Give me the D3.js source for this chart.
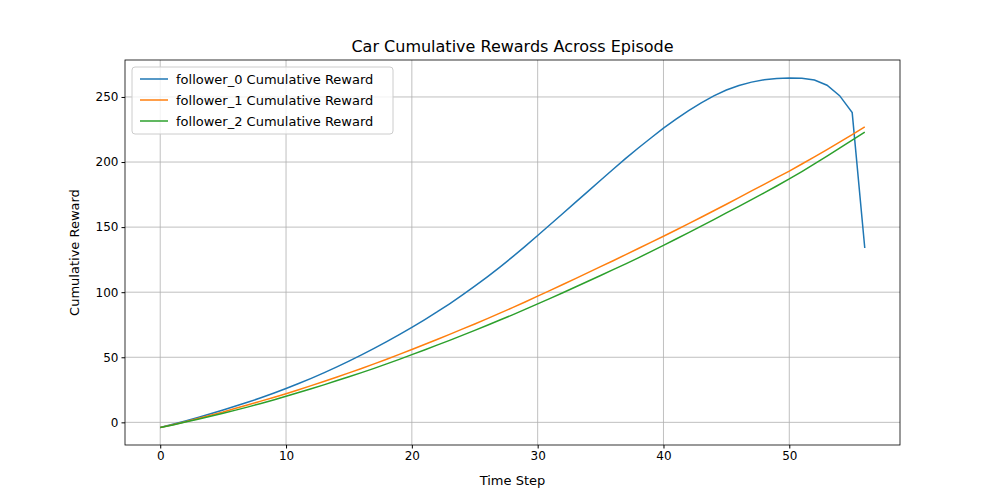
<!DOCTYPE html>
<html><head><meta charset="utf-8">
<script src="https://cdn.jsdelivr.net/npm/d3@7"></script>
<style>body{margin:0;background:#fff;font-family:"DejaVu Sans",sans-serif}</style>
</head><body><svg></svg>
<script>
var seriesNames = ["follower_0 Cumulative Reward", "follower_1 Cumulative Reward", "follower_2 Cumulative Reward"]
var colors = ["#1f77b4", "#ff7f0e", "#2ca02c"]
var follower0 = [-4,-1.5,1.1,3.8,6.6,9.5,12.5,15.6,18.9,22.4,26,29.8,33.8,38,42.4,47,51.8,56.8,62,67.4,73,78.8,84.8,91.1,97.7,104.6,111.8,119.3,127.1,135.2,143.6,152,160.5,169,177.5,186,194.5,202.8,210.8,218.5,226,233,239.5,245.5,250.8,255.3,258.8,261.4,263.2,264.2,264.6,264.4,263,259,251,238,134]
var follower1 = [-4,-1.8,0.5,3,5.5,8,10.8,13.5,16.3,19.1,22,25.1,28.2,31.4,34.7,38,41.4,44.9,48.5,52.2,56,59.8,63.7,67.6,71.6,75.6,79.7,83.9,88.1,92.5,97,101.4,105.9,110.4,115,119.6,124.2,128.9,133.6,138.3,143,147.8,152.7,157.6,162.6,167.6,172.7,177.8,182.9,188,193,198.5,204,209.6,215.3,221,227]
var follower2 = [-4,-2,0.2,2.4,4.7,7,9.4,11.9,14.5,17.2,20,22.9,25.8,28.8,31.9,35,38.2,41.5,44.9,48.4,52,55.6,59.3,63,66.8,70.7,74.6,78.6,82.6,86.8,91,95.3,99.6,104,108.4,112.8,117.3,121.8,126.4,131.2,136,140.9,145.8,150.8,155.8,160.9,166,171.1,176.3,181.6,187,192.7,198.6,204.6,210.7,216.8,223]
var xTicks = [0, 10, 20, 30, 40, 50]
var yTicks = [0, 50, 100, 150, 200, 250]

var screen = {width:1000, height:500}
var m = {left:125, right:100, top:60, bottom:55}
var svg = d3.select("svg").attr("width", screen.width).attr("height", screen.height)
var w = screen.width - m.left - m.right, h = screen.height - m.top - m.bottom

var xScale = d3.scaleLinear().domain([-2.8, 58.8]).range([m.left, m.left + w])
var yScale = d3.scaleLinear().domain([-17.4, 278.4]).range([m.top + h, m.top])

// grid
svg.append("g").selectAll("line").data(xTicks).enter().append("line")
  .attr("x1", function(d){return xScale(d)}).attr("x2", function(d){return xScale(d)})
  .attr("y1", m.top).attr("y2", m.top + h).attr("stroke", "#b0b0b0").attr("stroke-width", 0.8)
svg.append("g").selectAll("line").data(yTicks).enter().append("line")
  .attr("y1", function(d){return yScale(d)}).attr("y2", function(d){return yScale(d)})
  .attr("x1", m.left).attr("x2", m.left + w).attr("stroke", "#b0b0b0").attr("stroke-width", 0.8)

var line = d3.line().x(function(d, i){return xScale(i)}).y(function(d){return yScale(d)})
var all = [follower0, follower1, follower2]
all.forEach(function(s, k){
  svg.append("path").datum(s).attr("d", line).attr("fill", "none")
    .attr("stroke", colors[k]).attr("stroke-width", 1.5)
})

svg.append("g").attr("transform", "translate(0," + (m.top + h) + ")")
  .call(d3.axisBottom(xScale).tickValues(xTicks).tickSize(3.5).tickPadding(3))
svg.append("g").attr("transform", "translate(" + m.left + ",0)")
  .call(d3.axisLeft(yScale).tickValues(yTicks).tickSize(3.5).tickPadding(3))
svg.selectAll(".domain").remove()
svg.selectAll(".tick text").attr("font-size", 12).attr("font-family", "DejaVu Sans").attr("fill", "#000")
svg.selectAll(".tick line").attr("stroke", "#000")
svg.append("rect").attr("x", m.left).attr("y", m.top).attr("width", w).attr("height", h)
  .attr("fill", "none").attr("stroke", "#000").attr("stroke-width", 0.8)

svg.append("text").attr("x", m.left + w/2).attr("y", 52).attr("text-anchor", "middle")
  .attr("font-size", 16).text("Car Cumulative Rewards Across Episode")
svg.append("text").attr("x", m.left + w/2).attr("y", 485).attr("text-anchor", "middle")
  .attr("font-size", 13).text("Time Step")
svg.append("text").attr("transform", "translate(79," + (m.top + h/2) + ") rotate(-90)")
  .attr("text-anchor", "middle").attr("font-size", 13).text("Cumulative Reward")

// legend
var lg = svg.append("g")
lg.append("rect").attr("x", 132).attr("y", 67).attr("width", 261).attr("height", 67).attr("rx", 3)
  .attr("fill", "#fff").attr("fill-opacity", 0.8).attr("stroke", "#ccc")
seriesNames.forEach(function(n, k){
  var y = 79 + k * 21
  lg.append("line").attr("x1", 140).attr("x2", 168).attr("y1", y).attr("y2", y)
    .attr("stroke", colors[k]).attr("stroke-width", 1.5)
  lg.append("text").attr("x", 176).attr("y", y + 4.5).attr("font-size", 13).text(n)
})
</script></body></html>
